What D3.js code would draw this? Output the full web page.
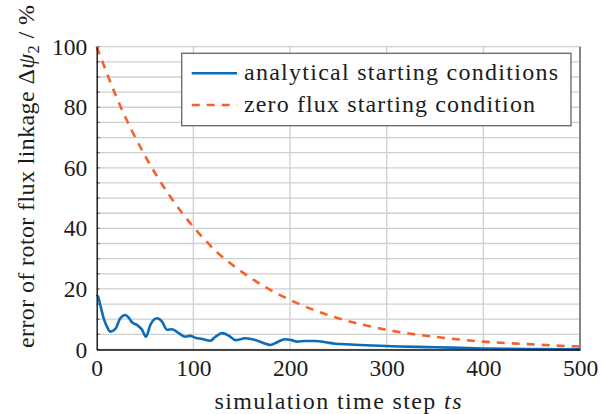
<!DOCTYPE html>
<html>
<head>
<meta charset="utf-8">
<script src="https://cdn.jsdelivr.net/npm/d3@7"></script>
<style>
  body { margin: 0; background: #fff; }
</style>
</head>
<body>
<svg id="chart" width="601" height="414"></svg>
<script>
// values
const analyticalSteps = [0, 1, 3.7, 7.2, 10.7, 14.1, 19.3, 24.4, 29.6, 33.1, 36.5, 41.7, 46.9, 51, 55.5, 62.4, 67.6, 72.8, 78, 84.9, 91.7, 96.9, 102, 109, 117.6, 122.8, 129.7, 136.6, 143.5, 153.8, 164.2, 172.9, 179.7, 186.6, 194.6, 201.4, 207.3, 216, 226.3, 236.6, 247, 253, 272, 299, 350, 400, 450, 500];
const analyticalError = [17.5, 17.7, 14.7, 10.3, 7.5, 5.9, 6.8, 10.3, 11.4, 10.5, 9, 8.1, 6.5, 4.2, 8.1, 10.3, 9.2, 6.5, 6.7, 5.4, 4.2, 4.5, 3.9, 3.5, 2.9, 4.2, 5.4, 4.6, 3.1, 3.7, 3.1, 2.1, 1.5, 2.4, 3.4, 3.1, 2.6, 2.8, 2.8, 2.4, 1.9, 1.8, 1.5, 1.15, 0.75, 0.35, 0.15, 0.05];

const zeroFluxSteps = [0, 25, 50, 75, 100, 125, 150, 175, 200, 225, 250, 275, 300, 325, 350, 375, 400, 425, 450, 475, 500];
const zeroFluxError = [100, 80, 64, 51, 40.5, 32, 25.7, 20.5, 16.4, 13, 10.3, 8.2, 6.5, 5.2, 4.2, 3.3, 2.6, 2.1, 1.7, 1.3, 1.0];

const seriesNames = ["analytical starting conditions", "zero flux starting condition"];
const xTicks = [0, 100, 200, 300, 400, 500];
const yTicks = [0, 20, 40, 60, 80, 100];
const yGrid = [0, 5, 10, 15, 20, 25, 30, 35, 40, 45, 50, 55, 60, 65, 70, 75, 80, 85, 90, 95, 100];

const blue = "#0a6cba";
const orange = "#f4622c";
const serif = '"Liberation Serif"';
const ink = "#1c1c1c";

const margin = { top: 46.7, right: 21, bottom: 64.5, left: 96.7 };
const width = 601;
const height = 414;

const svg = d3.select("#chart");

const x = d3.scaleLinear().domain([0, 500]).range([margin.left, width - margin.right]);
const y = d3.scaleLinear().domain([0, 100]).range([height - margin.bottom, margin.top]);

// grid
svg.append("g")
  .selectAll("line")
  .data(yGrid)
  .join("line")
  .attr("x1", x(0))
  .attr("x2", x(500))
  .attr("y1", (d) => y(d))
  .attr("y2", (d) => y(d))
  .attr("stroke", "#cfcfcf")
  .attr("stroke-width", 1.3);

svg.append("g")
  .selectAll("line")
  .data(xTicks.slice(1))
  .join("line")
  .attr("x1", (d) => x(d))
  .attr("x2", (d) => x(d))
  .attr("y1", y(0))
  .attr("y2", y(100))
  .attr("stroke", "#cfcfcf")
  .attr("stroke-width", 1.3);

// small inward ticks at the left
svg.append("g")
  .selectAll("line")
  .data(yGrid)
  .join("line")
  .attr("x1", x(0))
  .attr("x2", x(0) + 3)
  .attr("y1", (d) => y(d))
  .attr("y2", (d) => y(d))
  .attr("stroke", "#777")
  .attr("stroke-width", 1.3);

// right frame
svg.append("line")
  .attr("x1", x(500)).attr("x2", x(500))
  .attr("y1", y(0)).attr("y2", y(100))
  .attr("stroke", "#555").attr("stroke-width", 1.3);

// curves
const line = d3.line().curve(d3.curveMonotoneX);

svg.append("path")
  .datum(zeroFluxSteps.map((s, i) => [x(s), y(zeroFluxError[i])]))
  .attr("d", line)
  .attr("fill", "none")
  .attr("stroke", orange)
  .attr("stroke-width", 2.6)
  .attr("stroke-dasharray", "8,7");

svg.append("path")
  .datum(analyticalSteps.map((s, i) => [x(s), y(analyticalError[i])]))
  .attr("d", line)
  .attr("fill", "none")
  .attr("stroke", blue)
  .attr("stroke-width", 2.6)
  .attr("stroke-linejoin", "round");

// axes
const xAxis = svg.append("g")
  .attr("transform", `translate(0,${y(0)})`)
  .call(d3.axisBottom(x).tickValues(xTicks).tickSize(0).tickPadding(10));
const yAxis = svg.append("g")
  .attr("transform", `translate(${x(0)},0)`)
  .call(d3.axisLeft(y).tickValues(yTicks).tickSize(0).tickPadding(9.4));

[xAxis, yAxis].forEach((g) => {
  g.attr("font-family", serif).attr("font-size", 23.5);
  g.select(".domain").attr("stroke", "#111").attr("stroke-width", 1.4);
  g.selectAll("text")
    .attr("fill", ink)
    .attr("font-family", serif)
    .style("font-family", serif);
});

// axis titles
const xTitle = svg.append("text")
  .attr("x", 338)
  .attr("y", 408.5)
  .attr("text-anchor", "middle")
  .attr("font-family", serif)
  .style("font-family", serif)
  .attr("font-size", 24)
  .attr("fill", ink)
  .attr("textLength", 247)
  .attr("lengthAdjust", "spacing");
xTitle.append("tspan").text("simulation time step ");
xTitle.append("tspan").attr("font-style", "italic").text("ts");

const yTitle = svg.append("text")
  .attr("transform", "translate(33.5,176.5) rotate(-90)")
  .attr("text-anchor", "middle")
  .attr("font-family", serif)
  .style("font-family", serif)
  .attr("font-size", 24)
  .attr("fill", ink)
  .attr("textLength", 343)
  .attr("lengthAdjust", "spacing");
yTitle.append("tspan").text("error of rotor flux linkage Δ");
yTitle.append("tspan").attr("font-style", "italic").text("ψ");
yTitle.append("tspan").attr("dy", 5).attr("font-size", 16.5).text("2");
yTitle.append("tspan").attr("dy", -5).text(" / %");

// legend
svg.append("rect")
  .attr("x", 181.7)
  .attr("y", 53.3)
  .attr("width", 389.3)
  .attr("height", 72.4)
  .attr("fill", "#fff")
  .attr("stroke", "#666")
  .attr("stroke-width", 1.3);

const legendRows = [
  { name: seriesNames[0], color: blue, dash: null, y: 73.3, width: 314 },
  { name: seriesNames[1], color: orange, dash: "8,7", y: 105, width: 291 },
];

legendRows.forEach((r) => {
  svg.append("line")
    .attr("x1", 191.7).attr("x2", 237)
    .attr("y1", r.y).attr("y2", r.y)
    .attr("stroke", r.color)
    .attr("stroke-width", 2.6)
    .attr("stroke-dasharray", r.dash);
  svg.append("text")
    .attr("x", 244)
    .attr("y", r.y + 6.7)
    .attr("font-family", serif)
    .style("font-family", serif)
    .attr("font-size", 24)
    .attr("fill", ink)
    .attr("textLength", r.width)
    .attr("lengthAdjust", "spacing")
    .text(r.name);
});
</script>
</body>
</html>
